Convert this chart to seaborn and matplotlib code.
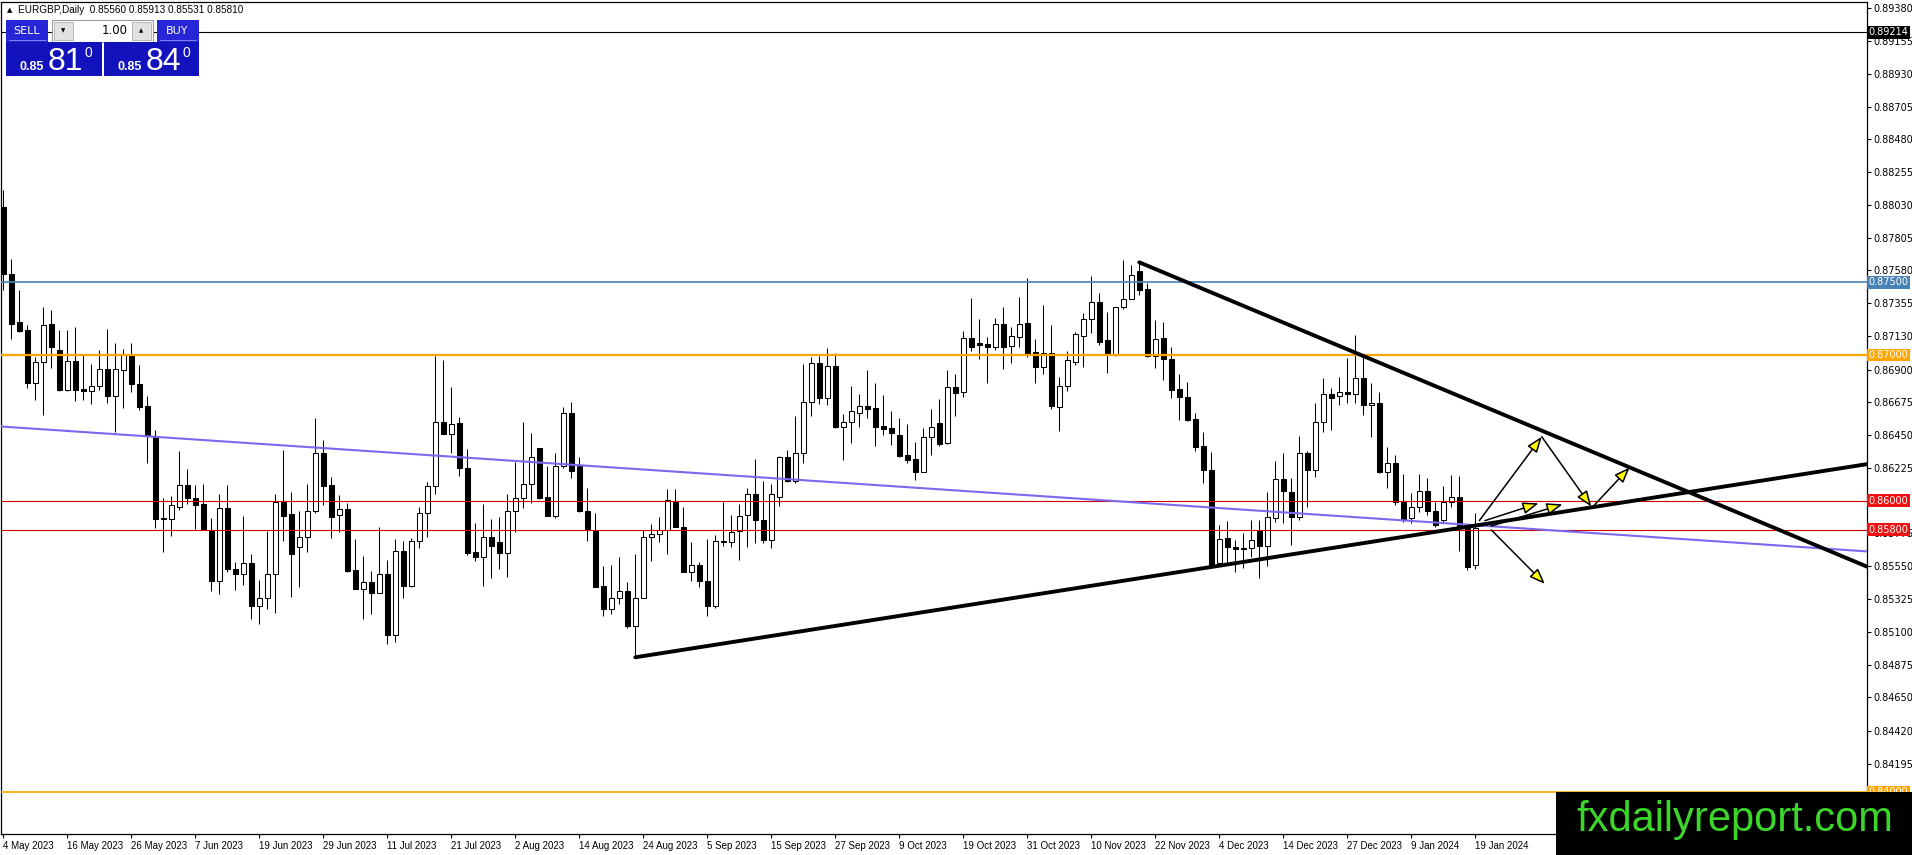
import matplotlib
matplotlib.use("Agg")
import matplotlib.pyplot as plt
import matplotlib.transforms as mtransforms
from matplotlib.patches import Rectangle
import numpy as np
import pandas as pd
import seaborn as sns

# EURGBP daily candles, 4 May 2023 .. 19 Jan 2024
opens = [
    0.88016, 0.87558, 0.87226, 0.87169, 0.86810, 0.86952, 0.87215, 0.87032, 0.86757, 0.86957,
    0.86764, 0.86753, 0.86785, 0.86902, 0.86719, 0.86899, 0.86991, 0.86803, 0.86648, 0.86442,
    0.85872, 0.85877, 0.85957, 0.86105, 0.86021, 0.85975, 0.85801, 0.85446, 0.85952, 0.85533,
    0.85499, 0.85572, 0.85277, 0.85330, 0.85494, 0.85993, 0.85909, 0.85680, 0.85753, 0.85931,
    0.86325, 0.86108, 0.85900, 0.85941, 0.85524, 0.85391, 0.85440, 0.85364, 0.85494, 0.85078,
    0.85655, 0.85417, 0.85723, 0.85913, 0.86101, 0.86538, 0.86455, 0.86531, 0.86222, 0.85650,
    0.85616, 0.85748, 0.85714, 0.85639, 0.85931, 0.86016, 0.86112, 0.86359, 0.86023, 0.85897,
    0.86240, 0.86600, 0.86240, 0.85931, 0.85794, 0.85415, 0.85255, 0.85335, 0.85381, 0.85141,
    0.85335, 0.85753, 0.85771, 0.85801, 0.85994, 0.85822, 0.85513, 0.85561, 0.85452, 0.85280,
    0.85726, 0.85719, 0.85792, 0.85902, 0.86044, 0.85867, 0.85730, 0.86028, 0.86298, 0.86137,
    0.86325, 0.86675, 0.86943, 0.86707, 0.86924, 0.86508, 0.86542, 0.86604, 0.86650, 0.86639,
    0.86515, 0.86497, 0.86451, 0.86314, 0.86286, 0.86200, 0.86435, 0.86531, 0.86394, 0.86778,
    0.86748, 0.87114, 0.87080, 0.87073, 0.87053, 0.87213, 0.87062, 0.87121, 0.87222, 0.87018,
    0.86920, 0.87011, 0.86645, 0.86787, 0.86954, 0.87133, 0.87245, 0.87362, 0.87103, 0.87000,
    0.87327, 0.87382, 0.87577, 0.87451, 0.86993, 0.87114, 0.86970, 0.86764, 0.86710, 0.86558,
    0.86375, 0.86211, 0.85570, 0.85742, 0.85680, 0.85677, 0.85673, 0.85794, 0.85691, 0.85879,
    0.86147, 0.86062, 0.85890, 0.86325, 0.86210, 0.86542, 0.86730, 0.86719, 0.86744, 0.86732,
    0.86840, 0.86657, 0.86668, 0.86199, 0.86256, 0.85993, 0.85879, 0.85959, 0.86069, 0.85931,
    0.85867, 0.85993, 0.86023, 0.85810, 0.85560,
]
highs = [
    0.88130, 0.87661, 0.87444, 0.87208, 0.86986, 0.87329, 0.87307, 0.87174, 0.87169, 0.87192,
    0.86998, 0.86940, 0.87032, 0.87176, 0.87082, 0.87039, 0.87082, 0.86929, 0.86716, 0.86483,
    0.86021, 0.86030, 0.86339, 0.86220, 0.86105, 0.86117, 0.85883, 0.86048, 0.86105, 0.85579,
    0.85893, 0.85636, 0.85456, 0.85792, 0.86046, 0.86348, 0.86057, 0.85929, 0.86115, 0.86565,
    0.86417, 0.86165, 0.86039, 0.85982, 0.85735, 0.85620, 0.85517, 0.85817, 0.85593, 0.85735,
    0.85726, 0.85742, 0.85959, 0.86131, 0.86993, 0.86966, 0.86778, 0.86572, 0.86355, 0.85845,
    0.85977, 0.85874, 0.85890, 0.86046, 0.86263, 0.86542, 0.86462, 0.86359, 0.86240, 0.86325,
    0.86641, 0.86675, 0.86302, 0.86084, 0.85913, 0.85552, 0.85559, 0.85611, 0.85443, 0.85634,
    0.85796, 0.85838, 0.85885, 0.86081, 0.86081, 0.85959, 0.85717, 0.85577, 0.85739, 0.85767,
    0.85989, 0.85902, 0.85977, 0.86085, 0.86284, 0.86135, 0.86115, 0.86307, 0.86348, 0.86581,
    0.86938, 0.86984, 0.86993, 0.87046, 0.87011, 0.86593, 0.86787, 0.86730, 0.86897, 0.86806,
    0.86726, 0.86616, 0.86565, 0.86526, 0.86405, 0.86497, 0.86627, 0.86696, 0.86897, 0.86870,
    0.87165, 0.87389, 0.87245, 0.87121, 0.87252, 0.87327, 0.87190, 0.87396, 0.87526, 0.87108,
    0.87343, 0.87206, 0.86851, 0.87027, 0.87160, 0.87291, 0.87542, 0.87428, 0.87293, 0.87327,
    0.87652, 0.87618, 0.87641, 0.87497, 0.87240, 0.87229, 0.87057, 0.86870, 0.86817, 0.86604,
    0.86474, 0.86337, 0.85833, 0.85863, 0.85730, 0.85780, 0.85867, 0.85867, 0.86062, 0.86272,
    0.86325, 0.86153, 0.86446, 0.86343, 0.86668, 0.86840, 0.86771, 0.86847, 0.86977, 0.87137,
    0.86989, 0.86810, 0.86748, 0.86371, 0.86314, 0.86183, 0.86050, 0.86183, 0.86153, 0.85993,
    0.86100, 0.86176, 0.86170, 0.85822, 0.85913,
]
lows = [
    0.87444, 0.87112, 0.87158, 0.86776, 0.86693, 0.86590, 0.86913, 0.86753, 0.86753, 0.86684,
    0.86689, 0.86661, 0.86762, 0.86671, 0.86471, 0.86636, 0.86746, 0.86620, 0.86259, 0.85815,
    0.85648, 0.85755, 0.85934, 0.85980, 0.85808, 0.85797, 0.85380, 0.85357, 0.85510, 0.85390,
    0.85419, 0.85190, 0.85155, 0.85254, 0.85227, 0.85726, 0.85337, 0.85405, 0.85650, 0.85913,
    0.85970, 0.85742, 0.85787, 0.85513, 0.85391, 0.85186, 0.85222, 0.85364, 0.85014, 0.85032,
    0.85330, 0.85405, 0.85673, 0.85748, 0.86046, 0.86455, 0.86325, 0.86172, 0.85627, 0.85588,
    0.85414, 0.85472, 0.85528, 0.85479, 0.85788, 0.85947, 0.85985, 0.86009, 0.85897, 0.85878,
    0.86222, 0.86154, 0.85924, 0.85724, 0.85405, 0.85210, 0.85221, 0.85290, 0.85123, 0.84924,
    0.85329, 0.85587, 0.85719, 0.85631, 0.85817, 0.85508, 0.85452, 0.85406, 0.85205, 0.85262,
    0.85692, 0.85680, 0.85593, 0.85680, 0.85707, 0.85707, 0.85673, 0.85966, 0.86131, 0.86119,
    0.86256, 0.86584, 0.86664, 0.86657, 0.86497, 0.86279, 0.86398, 0.86508, 0.86570, 0.86378,
    0.86451, 0.86382, 0.86302, 0.86261, 0.86142, 0.86195, 0.86314, 0.86378, 0.86387, 0.86584,
    0.86714, 0.87030, 0.86970, 0.86810, 0.87034, 0.86902, 0.86943, 0.87057, 0.86989, 0.86810,
    0.86870, 0.86627, 0.86481, 0.86755, 0.86931, 0.86915, 0.87153, 0.87069, 0.86874, 0.86993,
    0.87313, 0.87382, 0.87412, 0.86989, 0.86908, 0.86828, 0.86703, 0.86554, 0.86549, 0.86343,
    0.86119, 0.85552, 0.85570, 0.85570, 0.85513, 0.85540, 0.85616, 0.85467, 0.85552, 0.85856,
    0.85849, 0.85696, 0.85867, 0.85959, 0.86165, 0.86474, 0.86485, 0.86657, 0.86673, 0.86673,
    0.86588, 0.86440, 0.86188, 0.86085, 0.85970, 0.85856, 0.85845, 0.85925, 0.85902, 0.85822,
    0.85844, 0.85959, 0.85657, 0.85524, 0.85531,
]
closes = [
    0.87558, 0.87215, 0.87165, 0.86810, 0.86952, 0.87208, 0.87055, 0.86757, 0.86957, 0.86757,
    0.86753, 0.86785, 0.86902, 0.86719, 0.86902, 0.87009, 0.86803, 0.86643, 0.86442, 0.85877,
    0.85880, 0.85968, 0.86105, 0.86021, 0.85968, 0.85797, 0.85446, 0.85952, 0.85533, 0.85499,
    0.85572, 0.85277, 0.85330, 0.85494, 0.85993, 0.85897, 0.85632, 0.85750, 0.85931, 0.86325,
    0.86103, 0.85890, 0.85941, 0.85520, 0.85391, 0.85440, 0.85364, 0.85494, 0.85078, 0.85655,
    0.85417, 0.85723, 0.85913, 0.86101, 0.86538, 0.86455, 0.86524, 0.86222, 0.85643, 0.85616,
    0.85748, 0.85691, 0.85639, 0.85931, 0.86016, 0.86112, 0.86302, 0.86016, 0.85897, 0.86240,
    0.86600, 0.86206, 0.85931, 0.85805, 0.85410, 0.85255, 0.85335, 0.85381, 0.85141, 0.85329,
    0.85753, 0.85774, 0.85801, 0.86005, 0.85817, 0.85513, 0.85559, 0.85447, 0.85280, 0.85721,
    0.85714, 0.85783, 0.85897, 0.86044, 0.85867, 0.85730, 0.86044, 0.86298, 0.86137, 0.86325,
    0.86675, 0.86943, 0.86707, 0.86924, 0.86508, 0.86538, 0.86618, 0.86650, 0.86632, 0.86508,
    0.86492, 0.86467, 0.86307, 0.86279, 0.86200, 0.86435, 0.86504, 0.86389, 0.86778, 0.86741,
    0.87114, 0.87057, 0.87071, 0.87057, 0.87213, 0.87057, 0.87130, 0.87213, 0.87005, 0.86920,
    0.87011, 0.86652, 0.86787, 0.86963, 0.87142, 0.87245, 0.87362, 0.87092, 0.87011, 0.87327,
    0.87382, 0.87549, 0.87446, 0.86993, 0.87108, 0.86970, 0.86760, 0.86710, 0.86554, 0.86371,
    0.86211, 0.85559, 0.85735, 0.85684, 0.85666, 0.85670, 0.85730, 0.85691, 0.85886, 0.86147,
    0.86069, 0.85890, 0.86325, 0.86210, 0.86542, 0.86730, 0.86703, 0.86744, 0.86732, 0.86840,
    0.86657, 0.86668, 0.86199, 0.86256, 0.85993, 0.85867, 0.85959, 0.86069, 0.85931, 0.85833,
    0.85993, 0.86023, 0.85810, 0.85543, 0.85810,
]

date_labels = [
    "4 May 2023", "16 May 2023", "26 May 2023", "7 Jun 2023", "19 Jun 2023", "29 Jun 2023",
    "11 Jul 2023", "21 Jul 2023", "2 Aug 2023", "14 Aug 2023", "24 Aug 2023", "5 Sep 2023",
    "15 Sep 2023", "27 Sep 2023", "9 Oct 2023", "19 Oct 2023", "31 Oct 2023", "10 Nov 2023",
    "22 Nov 2023", "4 Dec 2023", "14 Dec 2023", "27 Dec 2023", "9 Jan 2024", "19 Jan 2024",
]
price_ticks = [
    0.89380, 0.89155, 0.88930, 0.88705, 0.88480, 0.88255, 0.88030, 0.87805, 0.87580, 0.87355,
    0.87130, 0.86900, 0.86675, 0.86450, 0.86225, 0.85775, 0.85550, 0.85325, 0.85100,
    0.84875, 0.84650, 0.84420, 0.84195,
]

# horizontal levels: (price, line colour, width, label colour)
levels = [
    (0.89214, "black", 0.8, "black"),
    (0.87500, "#4682B4", 1.2, "#4682B4"),
    (0.87000, "#FFA500", 1.6, "#FFA500"),
    (0.86000, "#CC0000", 0.8, "#EE1111"),
    (0.85800, "#CC0000", 0.8, "#EE1111"),
    (0.84000, "#FFA500", 1.2, "#FFA500"),
]

# trendlines, each from two anchor points (bar, price), extended as in MT4
support_pts = [(79, 0.84925), (151, 0.85545)]
resist_pts = [(142, 0.87636), (169, 0.87016)]
channel_pts = [(0, 0.86508), (185, 0.85828)]

# projection arrows (bar, price) -> (bar, price)
arrows = [
    ((184.5, 0.85863), (192.3, 0.86439)),
    ((192.3, 0.86439), (198.5, 0.85959)),
    ((198.7, 0.85959), (203.3, 0.86229)),
    ((185.2, 0.85863), (191.9, 0.85982)),
    ((186.0, 0.85826), (194.9, 0.85975)),
    ((186.0, 0.85799), (192.7, 0.85428)),
]

W, H = 1912, 855
sns.set_style("white")
plt.rcParams["font.family"] = ["DejaVu Sans"]

df = pd.DataFrame({"open": opens, "high": highs, "low": lows, "close": closes})
df["bar"] = np.arange(len(df))
df["bull"] = df["close"] >= df["open"]
df["bottom"] = df[["open", "close"]].min(axis=1)
df["body"] = (df["close"] - df["open"]).abs().clip(lower=0.00002)

fig = plt.figure(figsize=(W / 100, H / 100), dpi=100)
fig.patch.set_facecolor("white")
ax = fig.add_axes([1 / W, (H - 834) / H, 1866 / W, 832 / H])
ax.set_facecolor("white")

x0, x1 = -0.29, 232.96

# candles
ax.vlines(df["bar"], df["low"], df["high"], color="black", lw=0.75, zorder=2)
up = df[df["bull"]]
dn = df[~df["bull"]]
ax.bar(up["bar"], up["body"], bottom=up["bottom"], width=0.56, color="white",
       edgecolor="black", linewidth=0.75, zorder=3)
ax.bar(dn["bar"], dn["body"], bottom=dn["bottom"], width=0.56, color="black",
       edgecolor="black", linewidth=0.75, zorder=3)

for price, col, lw, _ in levels:
    ax.axhline(price, color=col, lw=lw, zorder=4)


def extend(pts, xa, xb):
    (ax_, ay), (bx, by) = pts
    k = (by - ay) / (bx - ax_)
    return [xa, xb], [ay + k * (xa - ax_), ay + k * (xb - ax_)]


cx, cy = extend(channel_pts, x0, x1)
sns.lineplot(x=cx, y=cy, ax=ax, color="#7B68EE", lw=1.5, zorder=5, legend=False)
sx, sy = extend(support_pts, support_pts[0][0], x1)
sns.lineplot(x=sx, y=sy, ax=ax, color="black", lw=2.8, zorder=6, legend=False)
rx, ry = extend(resist_pts, resist_pts[0][0], x1)
sns.lineplot(x=rx, y=ry, ax=ax, color="black", lw=2.8, zorder=6, legend=False)

for start, end in arrows:
    ax.annotate("", xy=end, xytext=start, zorder=7,
                arrowprops=dict(arrowstyle="-|>,head_length=0.95,head_width=0.36",
                                mutation_scale=10, fc="#FFFF00", ec="black",
                                lw=1.1, shrinkA=0, shrinkB=0))

ax.set_xlim(x0, x1)
ax.set_ylim(0.83712, 0.89423)

ax.yaxis.tick_right()
ax.set_yticks(price_ticks)
ax.set_yticklabels([f"{v:.5f}" for v in price_ticks])
ax.set_xticks(range(0, len(df), 8))
ax.set_xticklabels(date_labels, ha="left", family="Liberation Sans")
ax.tick_params(axis="y", right=True, left=False, length=3, width=0.8, pad=1.5,
               labelsize=7, colors="black")
ax.tick_params(axis="x", bottom=True, length=3, width=0.8, pad=2, labelsize=7,
               colors="black")
for s in ax.spines.values():
    s.set_color("black")
    s.set_linewidth(0.9)
ax.set_xlabel("")
ax.set_ylabel("")

trans = mtransforms.blended_transform_factory(ax.transAxes, ax.transData)
for price, _, _, lab in levels:
    ax.text(1.0008, price, f"{price:.5f}", transform=trans, ha="left", va="center",
            fontsize=7, color="white", clip_on=False, zorder=8,
            bbox=dict(boxstyle="square,pad=0.15", fc=lab, ec="none"))

# overlay in pixel units: trade panel and watermark
ov = fig.add_axes([0, 0, 1, 1], zorder=10)
ov.set_xlim(0, W)
ov.set_ylim(H, 0)
ov.axis("off")
ov.patch.set_alpha(0)

ov.text(7, 10, "▲", fontsize=5, va="center", ha="left", color="black")
ov.text(18, 10, "EURGBP,Daily  0.85560 0.85913 0.85531 0.85810", fontsize=7.2,
        va="center", ha="left", color="black", family="Liberation Sans")

btn = "#2626d6"
box = "#1313bd"
ov.add_patch(Rectangle((6, 20), 42, 22, fc=btn, ec="none"))
ov.add_patch(Rectangle((157, 20), 42, 22, fc=btn, ec="none"))
ov.plot([9, 46], [40.5, 40.5], color="#9090ff", lw=0.6)
ov.plot([160, 196], [40.5, 40.5], color="#9090ff", lw=0.6)
ov.add_patch(Rectangle((52, 20), 101, 22, fc="white", ec="#9a9a9a", lw=0.8))
ov.add_patch(Rectangle((54, 22), 19, 18, fc="#e2e2e2", ec="#b0b0b0", lw=0.6))
ov.add_patch(Rectangle((132, 22), 19, 18, fc="#e2e2e2", ec="#b0b0b0", lw=0.6))
ov.text(63.5, 31, "▼", fontsize=4, ha="center", va="center", color="black")
ov.text(141.5, 31, "▲", fontsize=4, ha="center", va="center", color="black")
ov.text(128, 31, "1.00", fontsize=8.5, ha="right", va="center", color="black")
ov.text(27, 31, "SELL", fontsize=8, ha="center", va="center", color="white")
ov.text(177.5, 31, "BUY", fontsize=8, ha="center", va="center", color="white")

ov.add_patch(Rectangle((6, 42), 96, 34, fc=box, ec="none"))
ov.add_patch(Rectangle((104, 42), 95, 34, fc=box, ec="none"))
for bx, big in [(20, "81"), (118, "84")]:
    ov.text(bx, 70, "0.85", fontsize=9, fontweight="bold", ha="left", va="baseline",
            color="white", family="Liberation Sans")
    ov.text(bx + 28, 70, big, fontsize=23, ha="left", va="baseline", color="white",
            family="Liberation Sans")
    ov.text(bx + 65, 46, "0", fontsize=10, ha="left", va="top", color="white",
            family="Liberation Sans")

ov.add_patch(Rectangle((1556, 792), 356, 63, fc="black", ec="none"))
ov.text(1735, 820, "fxdailyreport.com", fontsize=30, ha="center", va="center",
        color="#3CD62A", family="Liberation Sans")

fig.savefig("out.png", dpi=100)
